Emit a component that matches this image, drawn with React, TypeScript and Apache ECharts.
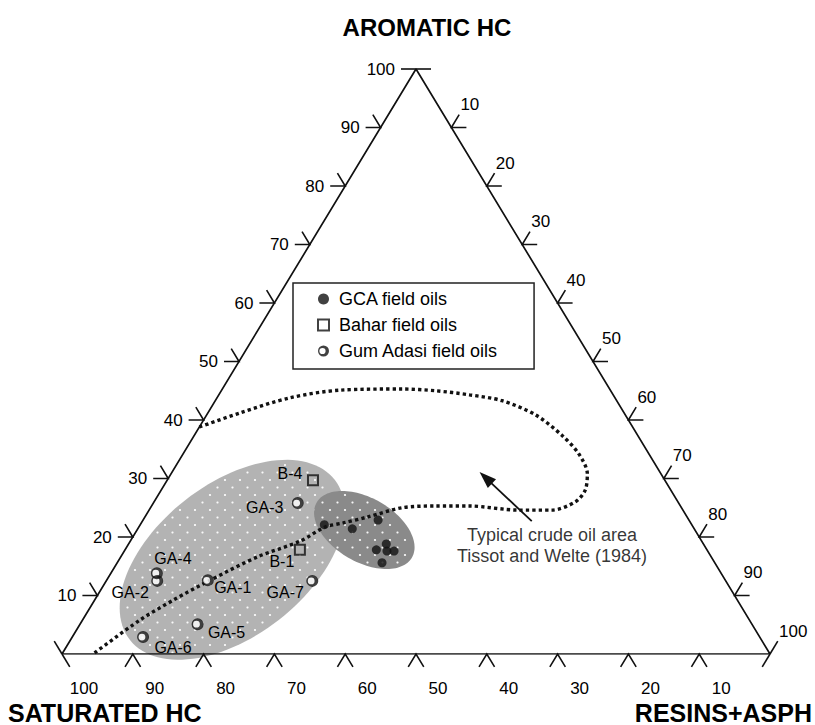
import { useEffect, useRef } from 'react';
import * as echarts from 'echarts';

// Compositions in percent: [saturated HC, aromatic HC, resins + asphaltenes]
const GCA_OILS: [number, number, number][] = [
  [51.9, 22.1, 26.0],
  [48.3, 21.4, 30.3],
  [43.9, 22.9, 33.2],
  [46.7, 17.8, 35.5],
  [44.8, 18.8, 36.4],
  [45.3, 17.6, 37.1],
  [44.3, 17.6, 38.1],
  [47.0, 15.6, 37.4],
];

const BAHAR_OILS: [string, number, number, number][] = [
  ['B-4', 49.7, 29.7, 20.6],
  ['B-1', 57.5, 17.8, 24.7],
];

const GUM_ADASI_OILS: [string, number, number, number][] = [
  ['GA-1', 73.1, 12.6, 14.3],
  ['GA-2', 80.3, 12.5, 7.2],
  ['GA-3', 53.8, 25.8, 20.4],
  ['GA-4', 79.7, 13.8, 6.5],
  ['GA-5', 78.3, 5.1, 16.6],
  ['GA-6', 87.1, 2.9, 10.0],
  ['GA-7', 58.4, 12.5, 29.1],
];

// Outline of the typical crude oil area after Tissot and Welte (1984): [aromatic, resins]
const CRUDE_OIL_AREA: [number, number][] = [
  [38.8, 0], [41.2, 4.5], [43.8, 10.3], [45.1, 16.7], [45.3, 25.4], [45.0, 30.2],
  [44.3, 35.4], [43.3, 40.5], [40.9, 46.4], [37.4, 51.9], [34.2, 55.9], [30.8, 58.8],
  [28.0, 59.9], [26.0, 59.5], [24.6, 56.9], [24.6, 52.2], [25.3, 44.8], [25.3, 40.0],
  [25.0, 35.5], [23.4, 31.4], [22.4, 28.5], [21.7, 26.3], [19.3, 24.0], [16.6, 19.3],
  [12.6, 14.6], [9.2, 11.1], [5.8, 8.1], [0, 4.4],
];

// Centres of the shaded oil families: [saturated, aromatic, resins]
const FAMILY_CENTRES: [number, number, number][] = [
  [67.9, 16.1, 16.0], // Gum Adasi / Bahar family
  [46.7, 21.2, 32.1], // GCA family
];

const TICK_VALUES = [0, 10, 20, 30, 40, 50, 60, 70, 80, 90, 100];
const SERIES_NAMES = ['GCA field oils', 'Bahar field oils', 'Gum Adasi field oils'];
const AXIS_TITLES = ['AROMATIC HC', 'SATURATED HC', 'RESINS+ASPH'];
const NOTE_LINES = ['Typical crude oil area', 'Tissot and Welte (1984)'];
const NOTE_ANCHOR: [number, number, number] = [21.5, 18.6, 59.9];
const ARROW_FROM: [number, number, number] = [22.3, 22.7, 55.0];
const ARROW_TO: [number, number, number] = [25.1, 30.1, 44.8];

// ---- styling ----
const FONT = "'Liberation Sans', Arial, Helvetica, sans-serif";
const INK = '#000';
const LABEL_OFFSETS: Record<string, [number, number]> = {
  'B-4': [-23, -7],
  'B-1': [-18, 12],
  'GA-1': [25, 7],
  'GA-2': [-27, 12],
  'GA-3': [-33, 4],
  'GA-4': [16, -15],
  'GA-5': [29, 8],
  'GA-6': [30, 10],
  'GA-7': [-27, 12],
};
const FAMILY_STYLES = [
  { rx: 130, ry: 76, rotation: -38, fill: '#b3b3b3' },
  { rx: 55, ry: 32, rotation: 30, fill: '#8a8a8a' },
];
// circle with a heavier right-hand rim
const HALF_RING =
  'path://M0,-6A6,6,0,1,1,0,6A6,6,0,1,1,0,-6ZM-1.1,-3.4A3.4,3.4,0,1,0,-1.1,3.4A3.4,3.4,0,1,0,-1.1,-3.4Z';

// ternary composition -> plot coordinates (x: 0..100 along the base, y: aromatic 0..100)
function toXY(s: number, a: number, r: number): [number, number] {
  const t = s + a + r;
  return [(100 * (r + a / 2)) / t, (100 * a) / t];
}

function unit(p: number[], q: number[]): [number, number] {
  const dx = q[0] - p[0];
  const dy = q[1] - p[1];
  const l = Math.hypot(dx, dy);
  return [dx / l, dy / l];
}

function renderTicks(_params: any, api: any) {
  const v = api.value(0) as number;
  const S = api.coord(toXY(100, 0, 0));
  const A = api.coord(toXY(0, 100, 0));
  const R = api.coord(toXY(0, 0, 100));
  const dSA = unit(S, A);
  const dRA = unit(R, A);
  const L = 15;
  const children: any[] = [];
  const stroke = (pts: number[][]) =>
    children.push({
      type: 'polyline',
      shape: { points: pts },
      style: { stroke: '#111', lineWidth: 1.6, fill: null },
    });
  const label = (x: number, y: number, text: string, align: string) =>
    children.push({
      type: 'text',
      style: {
        x, y, text, align, verticalAlign: 'middle',
        fontSize: 17, fontFamily: FONT, fill: INK,
      },
    });

  // aromatic axis (left side)
  {
    const P = api.coord(toXY(100 - v, v, 0));
    const pts: number[][] = [];
    if (v > 0) pts.push([P[0] - L, P[1]]);
    pts.push(P);
    if (v < 100) pts.push([P[0] + dRA[0] * L, P[1] + dRA[1] * L]);
    stroke(pts);
    if (v > 0) label(P[0] - 21, P[1], String(v), 'right');
  }
  // resins + asphaltenes axis (right side)
  {
    const P = api.coord(toXY(0, 100 - v, v));
    const pts: number[][] = [];
    if (v < 100) pts.push([P[0] + L, P[1]]);
    pts.push(P);
    if (v > 0) pts.push([P[0] + dSA[0] * L, P[1] + dSA[1] * L]);
    stroke(pts);
    if (v > 0) label(P[0] + 9, P[1] - 23, String(v), 'left');
  }
  // saturated axis (base)
  {
    const P = api.coord(toXY(100 - v, 0, v));
    const pts: number[][] = [];
    if (v > 0) pts.push([P[0] - dSA[0] * L, P[1] - dSA[1] * L]);
    pts.push(P);
    if (v < 100) pts.push([P[0] - dRA[0] * L, P[1] - dRA[1] * L]);
    stroke(pts);
    if (v < 100) label(P[0] + 22, P[1] + 34, String(100 - v), 'center');
  }
  return { type: 'group', children };
}

function renderFamily(params: any, api: any) {
  const st = FAMILY_STYLES[params.dataIndex];
  const c = api.coord([api.value(0), api.value(1)]);
  const th = (st.rotation * Math.PI) / 180;
  const cos = Math.cos(th);
  const sin = Math.sin(th);
  const outline: number[][] = [];
  for (let i = 0; i < 120; i++) {
    const t = (i / 120) * 2 * Math.PI;
    const ex = st.rx * Math.cos(t);
    const ey = st.ry * Math.sin(t);
    outline.push([c[0] + ex * cos - ey * sin, c[1] + ex * sin + ey * cos]);
  }
  const children: any[] = [
    { type: 'polygon', shape: { points: outline }, style: { fill: st.fill } },
  ];
  // white dot screen
  const ext = Math.max(st.rx, st.ry);
  const dx = 15;
  const dy = 7.5;
  for (let row = Math.floor((c[1] - ext) / dy); row * dy <= c[1] + ext; row++) {
    const y = row * dy;
    const off = row % 2 === 0 ? 0 : dx / 2;
    for (let col = Math.floor((c[0] - ext) / dx) - 1; col * dx <= c[0] + ext; col++) {
      const x = col * dx + off;
      const px = x - c[0];
      const py = y - c[1];
      const u = (px * cos + py * sin) / st.rx;
      const w = (-px * sin + py * cos) / st.ry;
      if (u * u + w * w < 0.9) {
        children.push({
          type: 'circle',
          shape: { cx: x, cy: y, r: 1.1 },
          style: { fill: 'rgba(255,255,255,0.92)' },
        });
      }
    }
  }
  return { type: 'group', children };
}

const pointLabel = {
  show: true,
  position: 'inside',
  formatter: (p: any) => p.name,
  fontSize: 16,
  fontFamily: FONT,
  color: INK,
  textBorderWidth: 0,
  opacity: 1,
};

export default function App() {
  const ref = useRef<HTMLDivElement>(null);

  useEffect(() => {
    if (!ref.current) return;
    const chart = echarts.init(ref.current, undefined, { renderer: 'svg' });
    const titleStyle = { fontSize: 24, fontWeight: 'bold', fontFamily: FONT, color: INK };

    chart.setOption({
      animation: false,
      backgroundColor: '#fff',
      title: [
        { text: AXIS_TITLES[0], left: 427, top: 15, textAlign: 'center', padding: 0, textStyle: titleStyle },
        { text: AXIS_TITLES[1], left: 8, top: 700, padding: 0, textStyle: { ...titleStyle, fontSize: 25 } },
        { text: AXIS_TITLES[2], right: 3, top: 700, padding: 0, textStyle: { ...titleStyle, fontSize: 25 } },
      ],
      grid: { left: 62, top: 69, width: 708, height: 585 },
      xAxis: { type: 'value', min: 0, max: 100, show: false },
      yAxis: { type: 'value', min: 0, max: 100, show: false },
      legend: {
        data: SERIES_NAMES,
        orient: 'vertical',
        left: 293,
        top: 283,
        padding: [7, 36, 9, 24],
        itemGap: 8,
        itemWidth: 11,
        itemHeight: 11,
        borderColor: '#222',
        borderWidth: 1.5,
        selectedMode: false,
        textStyle: { fontSize: 18, fontFamily: FONT, color: INK, padding: [0, 0, 0, 5] },
      },
      series: [
        {
          type: 'custom',
          name: 'families',
          silent: true,
          z: 1,
          renderItem: renderFamily,
          data: FAMILY_CENTRES.map((c) => toXY(...c)),
        },
        {
          type: 'line',
          name: 'crude oil area',
          silent: true,
          z: 3,
          smooth: 0.3,
          symbol: 'none',
          lineStyle: { color: '#111', width: 3.4, type: [3.3, 3.1], cap: 'butt' },
          data: CRUDE_OIL_AREA.map(([a, r]) => toXY(100 - a - r, a, r)),
        },
        {
          type: 'line',
          name: 'frame',
          silent: true,
          z: 4,
          symbol: 'none',
          lineStyle: { color: '#111', width: 1.7 },
          data: [toXY(100, 0, 0), toXY(0, 100, 0), toXY(0, 0, 100), toXY(100, 0, 0)],
        },
        {
          type: 'custom',
          name: 'ticks',
          silent: true,
          z: 4,
          renderItem: renderTicks,
          data: TICK_VALUES.map((v) => [v, 0]),
        },
        {
          type: 'scatter',
          name: 'note',
          silent: true,
          z: 5,
          symbolSize: 0,
          label: {
            show: true,
            position: 'inside',
            formatter: NOTE_LINES.join('\n'),
            fontSize: 18,
            lineHeight: 21,
            fontFamily: FONT,
            color: INK,
            textBorderWidth: 0,
          },
          data: [toXY(...NOTE_ANCHOR)],
          markLine: {
            silent: true,
            symbol: ['none', 'triangle'],
            symbolSize: [12, 17],
            label: { show: false },
            lineStyle: { color: '#111', width: 1.8, type: 'solid' },
            data: [[{ coord: toXY(...ARROW_FROM) }, { coord: toXY(...ARROW_TO) }]],
          },
        },
        {
          type: 'scatter',
          name: SERIES_NAMES[0],
          z: 6,
          symbol: 'circle',
          symbolSize: 9,
          itemStyle: { color: '#111' },
          data: GCA_OILS.map((c) => toXY(...c)),
        },
        {
          type: 'scatter',
          name: SERIES_NAMES[1],
          z: 6,
          symbol: 'rect',
          symbolSize: 10,
          itemStyle: { color: 'rgba(0,0,0,0)', borderColor: '#111', borderWidth: 2 },
          label: pointLabel,
          data: BAHAR_OILS.map(([name, s, a, r]) => ({
            name,
            value: toXY(s, a, r),
            label: { offset: LABEL_OFFSETS[name] },
          })),
        },
        {
          type: 'scatter',
          name: 'ring fill',
          silent: true,
          z: 6,
          symbol: 'circle',
          symbolSize: 10,
          itemStyle: { color: '#fff' },
          data: GUM_ADASI_OILS.map(([, s, a, r]) => toXY(s, a, r)),
        },
        {
          type: 'scatter',
          name: SERIES_NAMES[2],
          z: 7,
          symbol: HALF_RING,
          symbolSize: 12,
          itemStyle: { color: '#111' },
          label: pointLabel,
          data: GUM_ADASI_OILS.map(([name, s, a, r]) => ({
            name,
            value: toXY(s, a, r),
            label: { offset: LABEL_OFFSETS[name] },
          })),
        },
      ],
    });

    return () => chart.dispose();
  }, []);

  return (
    <div
      ref={ref}
      style={{ position: 'absolute', left: 0, top: 0, width: 815, height: 725, background: '#fff' }}
    />
  );
}
